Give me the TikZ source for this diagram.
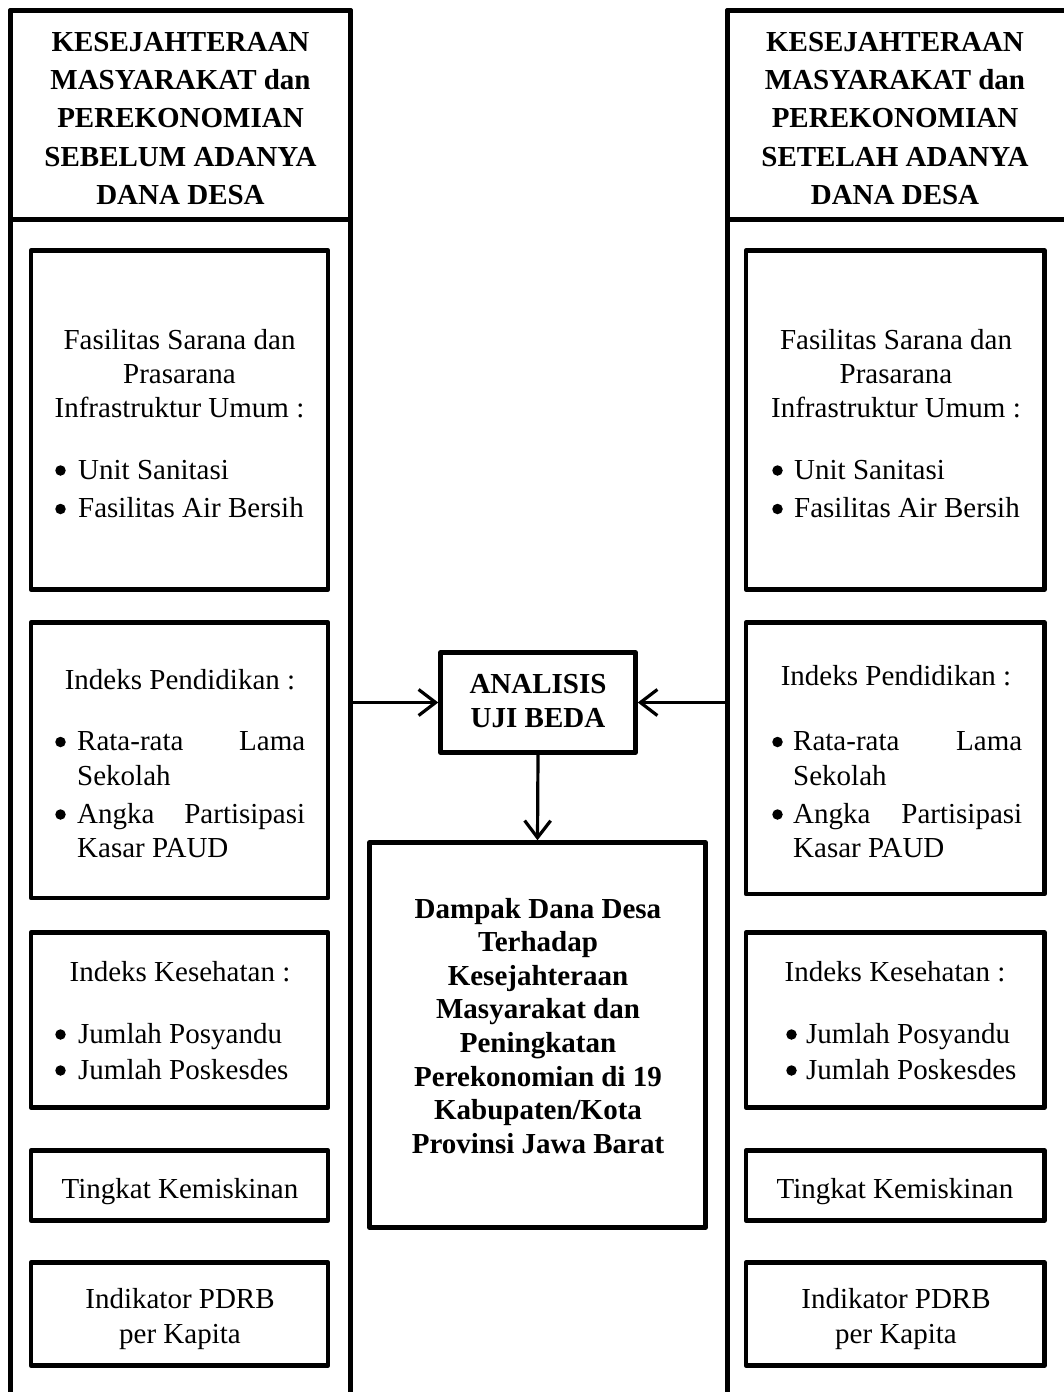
\documentclass[tikz,border=0pt]{standalone}
\usepackage{fontspec}
\setmainfont{Liberation Serif}
\usetikzlibrary{arrows.meta}
\tikzset{
  frame/.style={draw, line width=4.5pt, line join=round, inner sep=0pt},
  txt/.style={anchor=base, inner sep=0pt, font=\fontsize{29}{34}\selectfont},
  txtw/.style={txt, anchor=base west},
  btxt/.style={txt, font=\bfseries\fontsize{29}{34}\selectfont},
  dot/.style={circle, fill, inner sep=0pt, minimum size=10.5pt},
  arr/.style={line width=3.2pt, -{Straight Barb[length=17pt,width=26pt]}},
}
\newcommand\boxat[5]{\node[frame, minimum width={#4-#2}, minimum height={#5-#3}] (#1) at ({(#2+#4)/2},{(#3+#5)/2}) {};}
% bullet: name, x, baseline
\newcommand\bulat[3]{\node[dot] (#1) at (#2,{#3-8.5}) {};}
\begin{document}
\begin{tikzpicture}[x=1pt,y=-1pt]
\useasboundingbox (0,0) rectangle (1063,1392);
% columns
\boxat{colL}{10.5}{10.5}{350.5}{1420}
\boxat{colR}{727.5}{10.5}{1067.5}{1420}
\boxat{hdrL}{10.5}{10.5}{350.5}{219.5}
\boxat{hdrR}{727.5}{10.5}{1067.5}{219.5}
% headers
\foreach \t [count=\i from 0] in {KESEJAHTERAAN, MASYARAKAT dan, PEREKONOMIAN, SEBELUM ADANYA, DANA DESA}
  \node[btxt] (hl\i) at (180.5, 51.5+38.2*\i) {\t};
\foreach \t [count=\i from 0] in {KESEJAHTERAAN, MASYARAKAT dan, PEREKONOMIAN, SETELAH ADANYA, DANA DESA}
  \node[btxt] (hr\i) at (895, 51.5+38.2*\i) {\t};
% left boxes
\boxat{L1}{31}{250.5}{328}{589.5}
\boxat{L2}{31}{622.5}{328}{898}
\boxat{L3}{31}{932.5}{328}{1107.5}
\boxat{L4}{31}{1150.5}{328}{1220.5}
\boxat{L5}{31}{1262.5}{328}{1365.5}
% right boxes
\boxat{R1}{746}{250.5}{1044.5}{589.5}
\boxat{R2}{746}{622.5}{1044.5}{894}
\boxat{R3}{746}{932.5}{1044.5}{1107.5}
\boxat{R4}{746}{1150.5}{1044.5}{1220.5}
\boxat{R5}{746}{1262.5}{1044.5}{1365.5}
% left texts
\node[txt] (l1a) at (179.5,349.5) {Fasilitas Sarana dan};
\node[txt] (l1b) at (179.5,383.5) {Prasarana};
\node[txt] (l1c) at (179.5,417.5) {Infrastruktur Umum :};
\bulat{l1d}{60.5}{479}
\node[txtw] (l1e) at (78,479) {Unit Sanitasi};
\bulat{l1f}{60.5}{517.5}
\node[txtw] (l1g) at (78,517.5) {Fasilitas Air Bersih};
\node[txt] (l2a) at (180,689.5) {Indeks Pendidikan :};
\bulat{l2b}{60.5}{750.5}
\node[txtw] (l2c) at (77,750.5) {\makebox[228pt][s]{Rata-rata\hfill Lama}};
\node[txtw] (l2d) at (77,785) {Sekolah};
\bulat{l2e}{60.5}{823}
\node[txtw] (l2f) at (77,823) {\makebox[228pt][s]{Angka\hfill Partisipasi}};
\node[txtw] (l2g) at (77,857) {Kasar PAUD};
\node[txt] (l3a) at (180,981) {Indeks Kesehatan :};
\bulat{l3b}{60.5}{1043}
\node[txtw] (l3c) at (78,1043) {Jumlah Posyandu};
\bulat{l3d}{60.5}{1079}
\node[txtw] (l3e) at (78,1079) {Jumlah Poskesdes};
\node[txt] (l4a) at (180,1198) {Tingkat Kemiskinan};
\node[txt] (l5a) at (180,1308.5) {Indikator PDRB};
\node[txt] (l5b) at (180,1343) {per Kapita};
% right texts
\node[txt] (r1a) at (896,349.5) {Fasilitas Sarana dan};
\node[txt] (r1b) at (896,383.5) {Prasarana};
\node[txt] (r1c) at (896,417.5) {Infrastruktur Umum :};
\bulat{r1d}{777.5}{479}
\node[txtw] (r1e) at (794,479) {Unit Sanitasi};
\bulat{r1f}{777.5}{517.5}
\node[txtw] (r1g) at (794,517.5) {Fasilitas Air Bersih};
\node[txt] (r2a) at (896,685) {Indeks Pendidikan :};
\bulat{r2b}{777.5}{750.5}
\node[txtw] (r2c) at (793,750.5) {\makebox[229pt][s]{Rata-rata\hfill Lama}};
\node[txtw] (r2d) at (793,785) {Sekolah};
\bulat{r2e}{777.5}{823}
\node[txtw] (r2f) at (793,823) {\makebox[229pt][s]{Angka\hfill Partisipasi}};
\node[txtw] (r2g) at (793,857) {Kasar PAUD};
\node[txt] (r3a) at (895,981) {Indeks Kesehatan :};
\bulat{r3b}{791.5}{1043}
\node[txtw] (r3c) at (806,1043) {Jumlah Posyandu};
\bulat{r3d}{791.5}{1079}
\node[txtw] (r3e) at (806,1079) {Jumlah Poskesdes};
\node[txt] (r4a) at (895,1198) {Tingkat Kemiskinan};
\node[txt] (r5a) at (896,1308.5) {Indikator PDRB};
\node[txt] (r5b) at (896,1343) {per Kapita};
% centre
\boxat{ana}{440.5}{652.5}{635.5}{752.5}
\node[btxt] (a1) at (538,693.5) {ANALISIS};
\node[btxt] (a2) at (538,727) {UJI BEDA};
\boxat{dam}{369.5}{842.5}{705.5}{1227.5}
\foreach \t [count=\i from 0] in {Dampak Dana Desa, Terhadap, Kesejahteraan, Masyarakat dan, Peningkatan, Perekonomian di 19, {Kabupaten/Kota}, Provinsi Jawa Barat}
  \node[btxt] (d\i) at (538, 918+33.6*\i) {\t};
% connectors
\draw[arr] (ana.west -| colL.east) -- (ana.west);
\draw[arr] (ana.east -| colR.west) -- (ana.east);
\draw[arr] (ana.south) -- (dam.north);
\end{tikzpicture}
\end{document}
